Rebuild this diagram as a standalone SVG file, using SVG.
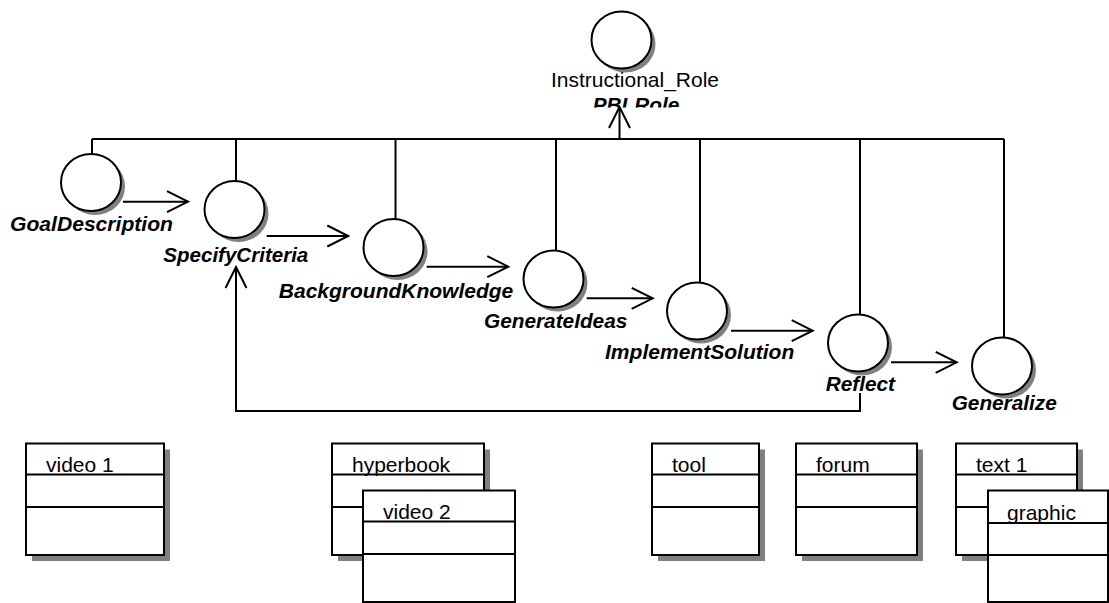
<svg xmlns="http://www.w3.org/2000/svg" width="1109" height="603" viewBox="0 0 1109 603">
<defs>
<style>
.ln{fill:none;stroke:#000;stroke-width:2}
.sh{fill:#808080;stroke:none}
.nd{fill:#fff;stroke:#000;stroke-width:2}
.lbl{font-family:"Liberation Sans",Arial,sans-serif;font-size:21px;font-weight:bold;font-style:italic;fill:#000}
.rl{font-family:"Liberation Sans",Arial,sans-serif;font-size:21px;fill:#000}
.bx{font-family:"Liberation Sans",Arial,sans-serif;font-size:21px;fill:#000}
</style>
<marker id="arr" viewBox="0 0 24 24" refX="22" refY="12" markerWidth="24" markerHeight="24" markerUnits="userSpaceOnUse" orient="auto">
<path d="M1,1.5 L22,12 L1,22.5" fill="none" stroke="#000" stroke-width="2"/>
</marker>
<clipPath id="clipPBL"><rect x="500" y="90" width="250" height="17.5"/></clipPath>
</defs>
<rect width="1109" height="603" fill="#fff"/>

<g id="connectors">
<path class="ln" d="M92,139 H1004"/>
<path class="ln" d="M92,139 V154"/>
<path class="ln" d="M236,139 V181"/>
<path class="ln" d="M395.5,139 V219"/>
<path class="ln" d="M556,139 V250.5"/>
<path class="ln" d="M700,139 V282.5"/>
<path class="ln" d="M860,139 V314.5"/>
<path class="ln" d="M1004,139 V337.5"/>
<path class="ln" d="M619.5,139 V107" marker-end="url(#arr)"/>
<path class="ln" d="M123,201.7 H188" marker-end="url(#arr)"/>
<path class="ln" d="M266.7,236 H348.3" marker-end="url(#arr)"/>
<path class="ln" d="M426.7,266.7 H508.3" marker-end="url(#arr)"/>
<path class="ln" d="M586.7,298.3 H652.7" marker-end="url(#arr)"/>
<path class="ln" d="M731,330.7 H812.7" marker-end="url(#arr)"/>
<path class="ln" d="M891,362.3 H956.7" marker-end="url(#arr)"/>
<path class="ln" d="M860,393 V411 H236 V267" marker-end="url(#arr)"/>
</g>

<g id="PBLRole">
<ellipse class="sh" cx="625.5" cy="44" rx="30" ry="28.5"/>
<ellipse class="nd" cx="621.5" cy="40" rx="30" ry="28.5"/>
<text class="rl" x="551" y="87" textLength="168" lengthAdjust="spacingAndGlyphs">Instructional_Role</text>
<text class="lbl" x="592.7" y="112" textLength="86.6" lengthAdjust="spacingAndGlyphs" clip-path="url(#clipPBL)">PBLRole</text>
</g>

<g id="GoalDescription">
<ellipse class="sh" cx="95" cy="186.5" rx="30" ry="28.5"/>
<ellipse class="nd" cx="91" cy="182.5" rx="30" ry="28.5"/>
<text class="lbl" x="10" y="230.5" textLength="163" lengthAdjust="spacingAndGlyphs">GoalDescription</text>
</g>

<g id="SpecifyCriteria">
<ellipse class="sh" cx="238.5" cy="213.5" rx="30" ry="28.5"/>
<ellipse class="nd" cx="234.5" cy="209.5" rx="30" ry="28.5"/>
<text class="lbl" x="163.3" y="262" textLength="145" lengthAdjust="spacingAndGlyphs">SpecifyCriteria</text>
</g>

<g id="BackgroundKnowledge">
<ellipse class="sh" cx="397.5" cy="251.5" rx="30" ry="28.5"/>
<ellipse class="nd" cx="393.5" cy="247.5" rx="30" ry="28.5"/>
<text class="lbl" x="278.8" y="298.3" textLength="234.5" lengthAdjust="spacingAndGlyphs">BackgroundKnowledge</text>
</g>

<g id="GenerateIdeas">
<ellipse class="sh" cx="557.5" cy="283" rx="30" ry="28.5"/>
<ellipse class="nd" cx="553.5" cy="279" rx="30" ry="28.5"/>
<text class="lbl" x="484" y="327.7" textLength="143.3" lengthAdjust="spacingAndGlyphs">GenerateIdeas</text>
</g>

<g id="ImplementSolution">
<ellipse class="sh" cx="701" cy="315" rx="30" ry="28.5"/>
<ellipse class="nd" cx="697" cy="311" rx="30" ry="28.5"/>
<text class="lbl" x="605" y="359.3" textLength="189.3" lengthAdjust="spacingAndGlyphs">ImplementSolution</text>
</g>

<g id="Reflect">
<ellipse class="sh" cx="862" cy="347" rx="30" ry="28.5"/>
<ellipse class="nd" cx="858" cy="343" rx="30" ry="28.5"/>
<text class="lbl" x="825.7" y="391" textLength="69.3" lengthAdjust="spacingAndGlyphs">Reflect</text>
</g>

<g id="Generalize">
<ellipse class="sh" cx="1006" cy="370" rx="30" ry="28.5"/>
<ellipse class="nd" cx="1002" cy="366" rx="30" ry="28.5"/>
<text class="lbl" x="951.7" y="410" textLength="105" lengthAdjust="spacingAndGlyphs">Generalize</text>
</g>

<g id="video1">
<rect class="sh" x="32" y="449.5" width="138" height="111.5"/>
<rect class="nd" x="26" y="443.5" width="138" height="111.5"/>
<path class="ln" d="M26,474.5 H164 M26,507 H164"/>
<text class="bx" x="46" y="471.5">video 1</text>
</g>

<g id="hyperbook">
<rect class="sh" x="338" y="449.5" width="152" height="111.5"/>
<rect class="nd" x="332" y="443.5" width="152" height="111.5"/>
<path class="ln" d="M332,474.5 H484 M332,507 H484"/>
<text class="bx" x="352" y="471.5">hyperbook</text>
</g>

<g id="video2">
<rect class="nd" x="363" y="490.5" width="152" height="111.5"/>
<path class="ln" d="M363,521.5 H515 M363,554 H515"/>
<text class="bx" x="383" y="518.5">video 2</text>
</g>

<g id="tool">
<rect class="sh" x="658" y="449.5" width="107" height="111.5"/>
<rect class="nd" x="652" y="443.5" width="107" height="111.5"/>
<path class="ln" d="M652,474.5 H759 M652,507 H759"/>
<text class="bx" x="672" y="471.5">tool</text>
</g>

<g id="forum">
<rect class="sh" x="802" y="449.5" width="121" height="111.5"/>
<rect class="nd" x="796" y="443.5" width="121" height="111.5"/>
<path class="ln" d="M796,474.5 H917 M796,507 H917"/>
<text class="bx" x="816" y="471.5">forum</text>
</g>

<g id="text1">
<rect class="sh" x="962" y="449.5" width="121" height="111.5"/>
<rect class="nd" x="956" y="443.5" width="121" height="111.5"/>
<path class="ln" d="M956,474.5 H1077 M956,507 H1077"/>
<text class="bx" x="976" y="471.5">text 1</text>
</g>

<g id="graphic">
<rect class="nd" x="988" y="490.5" width="120" height="111.5"/>
<path class="ln" d="M988,523 H1108 M988,555 H1108"/>
<text class="bx" x="1007" y="519.5">graphic</text>
</g>
</svg>
